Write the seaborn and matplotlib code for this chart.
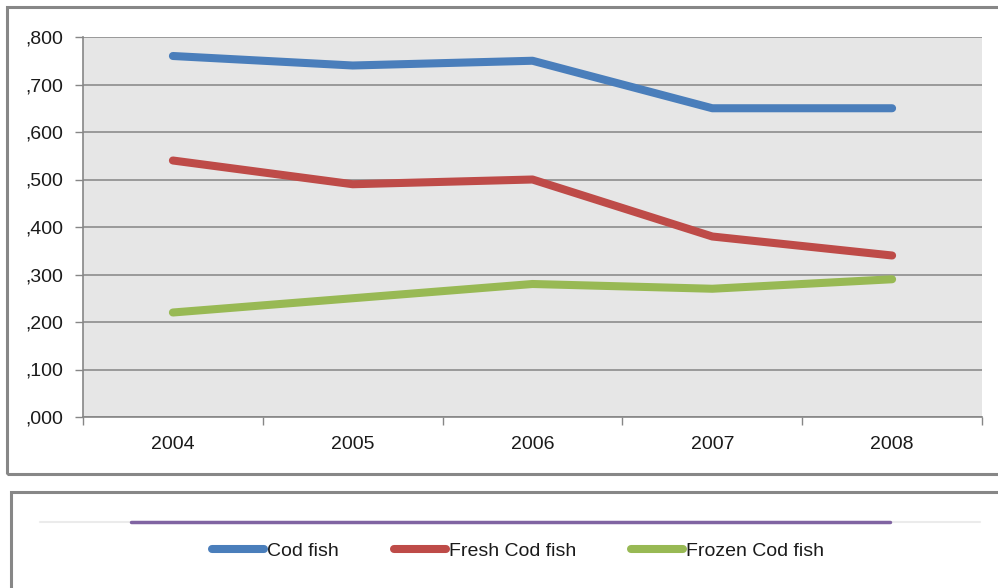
import pandas as pd
import matplotlib as mpl
import matplotlib.pyplot as plt
import numpy as np
import seaborn as sns
from matplotlib.lines import Line2D
from matplotlib.patches import Rectangle
from matplotlib.ticker import FuncFormatter

years = [2004, 2005, 2006, 2007, 2008]
cod = [0.76, 0.74, 0.75, 0.65, 0.65]
fresh_cod = [0.54, 0.49, 0.50, 0.38, 0.34]
frozen_cod = [0.22, 0.25, 0.28, 0.27, 0.29]
series_names = ["Cod fish", "Fresh Cod fish", "Frozen Cod fish"]
colors = ["#4A7EBB", "#BE4B48", "#98B954"]
y_ticks = [0.0, 0.1, 0.2, 0.3, 0.4, 0.5, 0.6, 0.7, 0.8]

sns.set_style("white")
plt.rcParams['font.family'] = ['Liberation Sans', 'DejaVu Sans']
mpl.rcParams['axes.unicode_minus'] = False

df = pd.DataFrame({
    "year": years * 3,
    "value": cod + fresh_cod + frozen_cod,
    "series": [n for n in series_names for _ in years],
})

W, H = 998, 588
fig = plt.figure(figsize=(W / 100, H / 100), dpi=100)

# the two framed boxes (chart and legend)
fig.patches.append(Rectangle((7 / W, 1 - 474 / H), 1.2, (474 - 7) / H,
                             transform=fig.transFigure, fill=False,
                             edgecolor="#878787", lw=2.2))
fig.patches.append(Rectangle((11 / W, -0.1), 1.2, 1 - 492 / H + 0.1,
                             transform=fig.transFigure, fill=False,
                             edgecolor="#878787", lw=2.2))

ax = fig.add_axes([83 / W, 1 - 417 / H, (982 - 83) / W, (417 - 37) / H])
ax.set_facecolor("#E6E6E6")

sns.lineplot(data=df, x="year", y="value", hue="series", palette=colors,
             linewidth=5.8, solid_capstyle="round", ax=ax, sort=False)

handles, labels = ax.get_legend_handles_labels()
ax.get_legend().remove()

ax.set_xlim(2003.5, 2008.5)
ax.set_ylim(0, 0.8)
ax.set_yticks(y_ticks)
ax.yaxis.set_major_formatter(FuncFormatter(lambda v, p: "," + f"{v * 1000:03.0f}"))
ax.set_xticks([y - 0.5 for y in years] + [years[-1] + 0.5])
ax.set_xticklabels([])
ax.set_xticks(years, minor=True)
ax.set_xticklabels([str(y) for y in years], minor=True)
ax.tick_params(axis="x", which="minor", bottom=False, length=0, pad=14, labelsize=14, labelcolor="#1a1a1a")
ax.tick_params(axis="x", which="major", bottom=True, length=6, width=1, color="#868686", direction="out")
ax.tick_params(axis="y", left=True, length=6, width=1, color="#868686", pad=8, labelsize=14, labelcolor="#1a1a1a")
ax.set_xlabel("")
ax.set_ylabel("")

ax.yaxis.grid(True, color="#8C8C8C", lw=1.2)
ax.set_axisbelow(True)
for s in ["top", "right"]:
    ax.spines[s].set_visible(False)
for s in ["left", "bottom"]:
    ax.spines[s].set_color("#868686")
    ax.spines[s].set_linewidth(1.2)

# lines across the legend box
fig.add_artist(Line2D([40 / W, 980 / W], [1 - 522 / H] * 2, transform=fig.transFigure,
                      color="#EBEBEB", lw=1.5))
fig.add_artist(Line2D([131 / W, 890 / W], [1 - 522 / H] * 2, transform=fig.transFigure,
                      color="#8064A2", lw=2.5))

for h in handles:
    h.set_linewidth(5.8)
    h.set_solid_capstyle("round")
leg = fig.legend(handles, labels, loc="center", bbox_to_anchor=(518 / W, 1 - 551 / H),
                 ncol=3, frameon=False, fontsize=14, handlelength=2.7,
                 handletextpad=0.15, columnspacing=2.8)
for t in leg.get_texts():
    t.set_color("#1a1a1a")

plt.savefig("out.png", dpi=100)
